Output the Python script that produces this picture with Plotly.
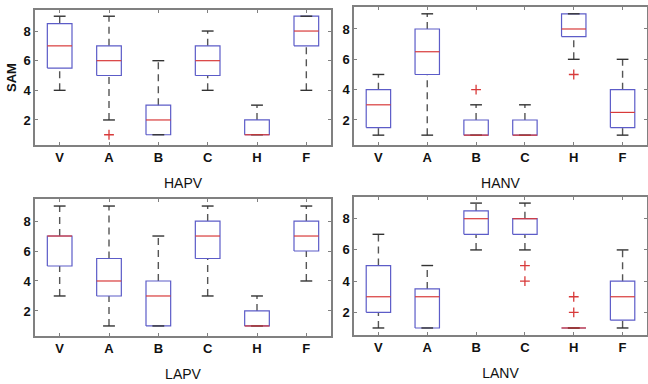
import plotly.graph_objects as go

categories = ["V", "A", "B", "C", "H", "F"]
panel_names = ["HAPV", "HANV", "LAPV", "LANV"]

hapv_lower = [4, 2, 1, 4, 1, 4]
hapv_q1 = [5.5, 5, 1, 5, 1, 7]
hapv_median = [7, 6, 2, 6, 1, 8]
hapv_q3 = [8.5, 7, 3, 7, 2, 9]
hapv_upper = [9, 9, 6, 8, 3, 9]
hapv_outliers = [[], [1], [], [], [], []]

hanv_lower = [1, 1, 1, 1, 6, 1]
hanv_q1 = [1.5, 5, 1, 1, 7.5, 1.5]
hanv_median = [3, 6.5, 1, 1, 8, 2.5]
hanv_q3 = [4, 8, 2, 2, 9, 4]
hanv_upper = [5, 9, 3, 3, 9, 6]
hanv_outliers = [[], [], [4], [], [5], []]

lapv_lower = [3, 1, 1, 3, 1, 4]
lapv_q1 = [5, 3, 1, 5.5, 1, 6]
lapv_median = [7, 4, 3, 7, 1, 7]
lapv_q3 = [7, 5.5, 4, 8, 2, 8]
lapv_upper = [9, 9, 7, 9, 3, 9]
lapv_outliers = [[], [], [], [], [], []]

lanv_lower = [1, 1, 6, 6, 1, 1]
lanv_q1 = [2, 1, 7, 7, 1, 1.5]
lanv_median = [3, 3, 8, 8, 1, 3]
lanv_q3 = [5, 3.5, 8.5, 8, 1, 4]
lanv_upper = [7, 5, 9, 9, 1, 6]
lanv_outliers = [[], [], [], [5, 4], [3, 2], []]

panels = [
    (hapv_lower, hapv_q1, hapv_median, hapv_q3, hapv_upper, hapv_outliers),
    (hanv_lower, hanv_q1, hanv_median, hanv_q3, hanv_upper, hanv_outliers),
    (lapv_lower, lapv_q1, lapv_median, lapv_q3, lapv_upper, lapv_outliers),
    (lanv_lower, lanv_q1, lanv_median, lanv_q3, lanv_upper, lanv_outliers),
]

W, H = 648, 384
# pixel boxes: left, right, top, bottom
boxes_px = [(35, 331, 10, 145), (354, 647, 7, 145), (35, 331, 199, 336), (354, 647, 197, 335)]
yranges = [[0.31, 9.42], [0.35, 9.45], [0.33, 9.47], [0.55, 9.39]]

BOXW = 0.25
CAPW = 0.12
BLUE = "#5c5cc8"
RED = "#d83a3a"
WHISK = "#555555"
CAP = "#333333"
FONT = "Liberation Sans Narrow, Arial Narrow, Liberation Sans, Arial, sans-serif"
TXT = "#111111"

fig = go.Figure()
layout_axes = {}
for p, (lo, q1, med, q3, up, outl) in enumerate(panels):
    n = p + 1
    xa = "x" if n == 1 else f"x{n}"
    ya = "y" if n == 1 else f"y{n}"
    wx, wy, cx, cy, bx, by, mx, my, ox, oy = [], [], [], [], [], [], [], [], [], []
    for i in range(len(categories)):
        x = i + 1
        wx += [x, x, None, x, x, None]
        wy += [q3[i], up[i], None, lo[i], q1[i], None]
        cx += [x - CAPW, x + CAPW, None, x - CAPW, x + CAPW, None]
        cy += [up[i], up[i], None, lo[i], lo[i], None]
        bx += [x - BOXW, x + BOXW, x + BOXW, x - BOXW, x - BOXW, None]
        by += [q1[i], q1[i], q3[i], q3[i], q1[i], None]
        mx += [x - BOXW, x + BOXW, None]
        my += [med[i], med[i], None]
        for o in outl[i]:
            ox.append(x)
            oy.append(o)
    common = dict(xaxis=xa, yaxis=ya, showlegend=False, hoverinfo="skip")
    fig.add_trace(go.Scatter(x=wx, y=wy, mode="lines",
                             line=dict(color=WHISK, width=1.4, dash="7px,5px"), **common))
    fig.add_trace(go.Scatter(x=bx, y=by, mode="lines",
                             line=dict(color=BLUE, width=1.2), **common))
    fig.add_trace(go.Scatter(x=cx, y=cy, mode="lines",
                             line=dict(color=CAP, width=1.4), **common))
    fig.add_trace(go.Scatter(x=mx, y=my, mode="lines",
                             line=dict(color=RED, width=1.2), **common))
    if ox:
        fig.add_trace(go.Scatter(x=ox, y=oy, mode="markers",
                                 marker=dict(symbol="cross-thin", size=7,
                                             line=dict(color=RED, width=1.3)),
                                 **common))

    l, r, t, b = boxes_px[p]
    xdom = [l / W, r / W]
    ydom = [1 - b / H, 1 - t / H]
    axis_common = dict(showline=True, linecolor="#808080", linewidth=1.5, mirror="ticks",
                       ticks="inside", ticklen=3, tickcolor="#808080", showgrid=False,
                       zeroline=False,
                       tickfont=dict(family=FONT, size=13, color=TXT, weight="bold"))
    layout_axes["xaxis" if n == 1 else f"xaxis{n}"] = dict(
        domain=xdom, range=[0.5, 6.5], tickvals=list(range(1, 7)), ticktext=categories,
        anchor=ya, title=dict(text=panel_names[p], standoff=14,
                              font=dict(family=FONT, size=14, color=TXT)),
        **axis_common)
    ydict = dict(domain=ydom, range=yranges[p], tickvals=[2, 4, 6, 8], anchor=xa,
                 **axis_common)
    if n == 1:
        ydict["title"] = dict(text="SAM", standoff=4,
                              font=dict(family=FONT, size=13, color=TXT, weight="bold"))
    layout_axes["yaxis" if n == 1 else f"yaxis{n}"] = ydict

fig.update_layout(width=W, height=H, margin=dict(l=0, r=0, t=0, b=0),
                  paper_bgcolor="white", plot_bgcolor="white", **layout_axes)
fig.write_html("out.html")
